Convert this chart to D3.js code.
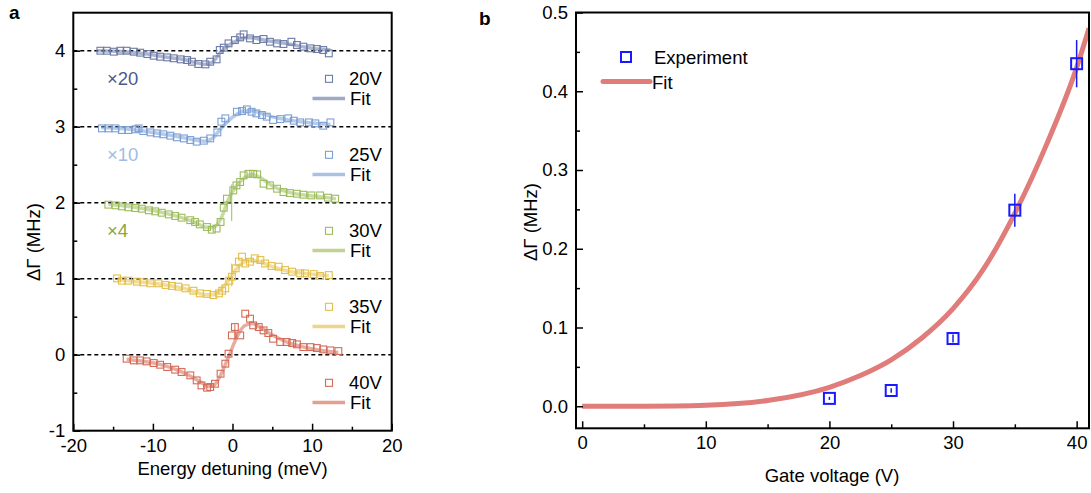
<!DOCTYPE html>
<html>
<head>
<meta charset="utf-8">
<script src="https://cdn.jsdelivr.net/npm/d3@7"></script>
<style>
  body { margin: 0; background: #fff; }
  text { font-family: "Liberation Sans", Arial, sans-serif; }
</style>
</head>
<body>
<svg id="chart" width="1091" height="493"></svg>
<script>
// ---- panel a data (deviation from each dashed baseline) ----
const voltages = ["20V", "25V", "30V", "35V", "40V"];
const offsets = [4, 3, 2, 1, 0];
const scaleLabels = ["×20", "×10", "×4"];
const colors = ["#6b7aa6", "#7b9fd4", "#9cbc5c", "#e3bf4a", "#d46a55"];
const scaleColors = ["#4d5b8c", "#9fbde3", "#8aa83c"];

const exp20 = [[-16.6,0],[-15.8,0],[-14.9,-0.013],[-14.1,0],[-13.3,0],[-12.4,-0.013],[-11.6,-0.026],[-10.7,-0.044],
  [-9.9,-0.066],[-9.1,-0.079],[-8.2,-0.088],[-7.4,-0.1],[-6.5,-0.114],[-5.7,-0.123],[-5.1,-0.145],[-4.3,-0.175],
  [-3.4,-0.18],[-2.8,-0.145],[-2.0,-0.114],[-1.6,0.009],[-1.1,0.04],[-0.5,0.096],[0.3,0.14],[0.97,0.175],[1.4,0.215],
  [2.2,0.162],[3.0,0.14],[3.9,0.154],[4.7,0.118],[5.6,0.096],[6.4,0.088],[7.4,0.118],[8.1,0.075],[8.9,0.053],
  [9.8,0.031],[10.6,0.022],[11.4,0.009],[12.1,-0.035]];
const exp25 = [[-16.4,-0.022],[-15.6,-0.022],[-14.7,-0.022],[-13.9,-0.044],[-13.1,-0.044],[-12.2,-0.035],[-11.8,-0.022],
  [-11.2,-0.057],[-10.3,-0.075],[-9.5,-0.088],[-8.7,-0.1],[-7.8,-0.118],[-7.0,-0.14],[-6.1,-0.154],[-5.3,-0.175],
  [-4.5,-0.197],[-3.6,-0.184],[-2.8,-0.154],[-1.9,-0.075],[-1.4,0.066],[-0.9,0.11],[0.55,0.197],[1.2,0.206],[1.8,0.228],
  [2.4,0.197],[3.0,0.175],[3.7,0.154],[4.3,0.132],[5.1,0.088],[6.0,0.1],[7.0,0.11],[7.7,0.079],[8.5,0.057],[9.6,0.057],
  [10.4,0.044],[11.4,0.013],[12.3,0.057]];
const exp30 = [[-15.6,-0.026],[-14.7,-0.035],[-13.9,-0.048],[-13.1,-0.061],[-12.2,-0.07],[-11.4,-0.079],[-10.5,-0.1],
  [-9.7,-0.114],[-8.9,-0.132],[-8.0,-0.154],[-7.2,-0.175],[-6.4,-0.197],[-5.3,-0.23],[-4.7,-0.254],[-4.1,-0.285],
  [-3.2,-0.32],[-2.6,-0.355],[-2.0,-0.34],[-1.5,-0.254],[-1.1,-0.066],[-0.7,0.053],[0.1,0.162],[0.5,0.228],[0.96,0.272],
  [1.4,0.36],[2.0,0.38],[2.6,0.38],[3.1,0.373],[3.9,0.25],[4.7,0.228],[5.6,0.184],[6.4,0.14],[7.2,0.127],[8.1,0.118],
  [8.9,0.105],[9.9,0.096],[11.0,0.096],[12.0,0.066],[12.9,0.053]];
const exp35 = [[-14.5,0.004],[-13.9,-0.026],[-13.1,-0.026],[-12.0,-0.039],[-11.2,-0.048],[-10.3,-0.061],[-9.3,-0.061],
  [-8.4,-0.083],[-7.6,-0.096],[-6.8,-0.105],[-5.9,-0.127],[-4.9,-0.158],[-4.1,-0.193],[-3.2,-0.2],[-2.4,-0.215],
  [-1.7,-0.193],[-1.3,-0.158],[-0.9,-0.127],[-0.4,-0.026],[-0.08,0.026],[0.4,0.136],[0.8,0.224],[1.2,0.29],[1.6,0.2],
  [2.2,0.224],[2.8,0.268],[3.5,0.246],[4.1,0.2],[4.9,0.167],[5.8,0.158],[6.6,0.114],[7.5,0.092],[8.5,0.07],[9.1,0.07],
  [10.2,0.061],[11.0,0.035],[12.1,0.048]];
const exp40 = [[-13.3,-0.053],[-12.4,-0.075],[-11.6,-0.075],[-10.8,-0.088],[-9.9,-0.11],[-9.1,-0.132],[-8.2,-0.162],
  [-7.2,-0.197],[-6.4,-0.228],[-5.3,-0.272],[-4.5,-0.338],[-3.9,-0.404],[-3.2,-0.434],[-2.8,-0.425],[-2.2,-0.382],
  [-1.5,-0.25],[-0.9,-0.118],[-0.5,0.013],[-0.08,0.254],[0.3,0.364],[0.97,0.254],[1.6,0.54],[2.2,0.474],[2.6,0.386],
  [3.3,0.364],[3.9,0.32],[4.5,0.285],[5.1,0.21],[6.0,0.167],[6.8,0.167],[7.5,0.154],[8.1,0.136],[8.9,0.1],[9.8,0.1],
  [10.6,0.088],[11.4,0.07],[12.3,0.057],[13.3,0.048]];
const expA = [exp20, exp25, exp30, exp35, exp40];

const fit20 = [[-17,0],[-14,-0.01],[-11,-0.04],[-8,-0.09],[-6,-0.12],[-4.5,-0.16],[-3.5,-0.18],[-2.5,-0.15],[-1.5,-0.02],
  [-0.5,0.07],[0.5,0.13],[1.5,0.17],[2.5,0.17],[3.5,0.15],[5,0.12],[7,0.09],[9,0.05],[11,0.02],[12.3,0.01]];
const fit25 = [[-16.5,-0.01],[-14,-0.025],[-11,-0.06],[-8,-0.11],[-6,-0.15],[-4.5,-0.18],[-3.5,-0.19],[-2.5,-0.15],
  [-1.5,-0.03],[-0.5,0.08],[0.5,0.16],[1.5,0.21],[2.5,0.21],[3.5,0.18],[5,0.13],[7,0.09],[9,0.06],[11,0.04],[12.3,0.03]];
const fit30 = [[-15.6,-0.02],[-13,-0.05],[-10,-0.1],[-8,-0.15],[-6,-0.21],[-4.5,-0.27],[-3.5,-0.32],[-2.5,-0.33],
  [-1.5,-0.22],[-0.5,0.05],[0.5,0.22],[1.5,0.33],[2.5,0.37],[3.5,0.33],[5,0.22],[7,0.14],[9,0.1],[11,0.08],[13,0.05]];
const fit35 = [[-14.5,-0.01],[-12,-0.04],[-10,-0.06],[-8,-0.09],[-6,-0.13],[-4.5,-0.18],[-3.5,-0.21],[-2.5,-0.21],
  [-1.5,-0.15],[-0.5,-0.02],[0.5,0.13],[1.5,0.22],[2.5,0.24],[3.5,0.22],[5,0.16],[7,0.1],[9,0.07],[11,0.05],[12.1,0.04]];
const fit40 = [[-13.3,-0.06],[-11,-0.09],[-9,-0.13],[-7,-0.2],[-5.5,-0.27],[-4,-0.36],[-3,-0.42],[-2.3,-0.4],
  [-1.5,-0.27],[-0.5,-0.03],[0.5,0.22],[1.5,0.38],[2.5,0.41],[3.5,0.36],[5,0.26],[7,0.16],[9,0.1],[11,0.06],[13.3,0.03]];
const fitA = [fit20, fit25, fit30, fit35, fit40];

// a few visible error bars: [series index, x, y, half-length]
const errA = [[2, -0.1, 0.0, 0.24], [3, -0.1, 0.05, 0.15], [4, 0.3, 0.3, 0.1]];

const xTicksA = [-20, -10, 0, 10, 20];
const xMinorA = [-15, -5, 5, 15];
const yTicksA = [-1, 0, 1, 2, 3, 4];
const yMinorA = [-0.5, 0.5, 1.5, 2.5, 3.5];

// ---- panel b data ----
const gateV = [20, 25, 30, 35, 40];
const gammaExp = [0.010, 0.020, 0.086, 0.249, 0.435];
const gammaErr = [0.002, 0.003, 0.005, 0.021, 0.03];
const fitV = [0, 5, 10, 15, 20, 22.5, 25, 27.5, 30, 32.5, 35, 37.5, 40, 41];
const fitGamma = [0, 0.0001, 0.0013, 0.0072, 0.024, 0.039, 0.059, 0.087, 0.124, 0.175, 0.245, 0.33, 0.43, 0.48];

const xTicksB = [0, 10, 20, 30, 40];
const xMinorB = [5, 15, 25, 35];
const yTicksB = [0, 0.1, 0.2, 0.3, 0.4, 0.5];
const yMinorB = [0.05, 0.15, 0.25, 0.35, 0.45];

const FS = "18.5px";
const svg = d3.select("#chart");

function frame(g, x, y, xt, xm, yt, ym, xfmt, yfmt) {
  const [x0, x1] = x.range(), [y0, y1] = y.range();
  const ax = [
    g.append("g").attr("transform", `translate(0,${y0})`)
      .call(d3.axisBottom(x).tickValues(xt).tickFormat(xfmt).tickSizeInner(-7).tickSizeOuter(0).tickPadding(8)),
    g.append("g").attr("transform", `translate(0,${y0})`)
      .call(d3.axisBottom(x).tickValues(xm).tickFormat("").tickSizeInner(-4).tickSizeOuter(0)),
    g.append("g").attr("transform", `translate(${x0},0)`)
      .call(d3.axisLeft(y).tickValues(yt).tickFormat(yfmt).tickSizeInner(-7).tickSizeOuter(0).tickPadding(8)),
    g.append("g").attr("transform", `translate(${x0},0)`)
      .call(d3.axisLeft(y).tickValues(ym).tickFormat("").tickSizeInner(-4).tickSizeOuter(0))
  ];
  ax.forEach(a => {
    a.attr("font-family", null).attr("font-size", null);
    a.select(".domain").remove();
    a.selectAll(".tick line").attr("stroke", "#000").attr("stroke-width", 1.5);
    a.selectAll(".tick text").attr("fill", "#000").style("font-size", FS);
  });
  g.append("rect").attr("x", x0).attr("y", y1).attr("width", x1 - x0).attr("height", y0 - y1)
    .attr("fill", "none").attr("stroke", "#000").attr("stroke-width", 2);
}

// ================= panel a =================
const xA = d3.scaleLinear().domain([-20, 20]).range([73.3, 391.7]);
const yA = d3.scaleLinear().domain([-1, 4.5]).range([430.7, 12.7]);
const ga = svg.append("g");

offsets.forEach(o => {
  ga.append("line").attr("x1", xA(-20)).attr("x2", xA(20)).attr("y1", yA(o)).attr("y2", yA(o))
    .attr("stroke", "#000").attr("stroke-width", 1.4).attr("stroke-dasharray", "4,3");
});

const lineA = d3.line().curve(d3.curveMonotoneX);
fitA.forEach((f, i) => {
  ga.append("path")
    .attr("d", lineA(f.map(d => [xA(d[0]), yA(d[1] + offsets[i])])))
    .attr("fill", "none").attr("stroke", colors[i]).attr("stroke-width", 3.5).attr("stroke-opacity", 0.55);
});

errA.forEach(e => {
  const o = offsets[e[0]];
  ga.append("line").attr("x1", xA(e[1])).attr("x2", xA(e[1]))
    .attr("y1", yA(e[2] + e[3] + o)).attr("y2", yA(e[2] - e[3] + o))
    .attr("stroke", colors[e[0]]).attr("stroke-width", 1);
});

expA.forEach((s, i) => {
  ga.append("g").selectAll("rect").data(s).join("rect")
    .attr("x", d => xA(d[0]) - 3.4).attr("y", d => yA(d[1] + offsets[i]) - 3.4)
    .attr("width", 6.8).attr("height", 6.8)
    .attr("fill", "none").attr("stroke", colors[i]).attr("stroke-width", 1.1);
});

// legend a
voltages.forEach((v, i) => {
  const ys = yA(offsets[i] - 0.37), yl = yA(offsets[i] - 0.63);
  ga.append("rect").attr("x", 325.5).attr("y", ys - 3.5).attr("width", 7).attr("height", 7)
    .attr("fill", "none").attr("stroke", colors[i]).attr("stroke-width", 1.1);
  ga.append("text").attr("x", 349).attr("y", ys + 6.5).style("font-size", FS).text(v);
  ga.append("line").attr("x1", 312.5).attr("x2", 345).attr("y1", yl).attr("y2", yl)
    .attr("stroke", colors[i]).attr("stroke-width", 3.5).attr("stroke-opacity", 0.65);
  ga.append("text").attr("x", 350).attr("y", yl + 6.5).style("font-size", FS).text("Fit");
});

scaleLabels.forEach((s, i) => {
  ga.append("text").attr("x", 107).attr("y", yA(offsets[i] - 0.45)).style("font-size", FS)
    .attr("fill", scaleColors[i]).text(s);
});

const intFmt = d => String(d);
frame(ga, xA, yA, xTicksA, xMinorA, yTicksA, yMinorA, intFmt, intFmt);

ga.append("text").attr("x", xA(0)).attr("y", 475).attr("text-anchor", "middle")
  .style("font-size", FS).text("Energy detuning (meV)");
ga.append("text").attr("transform", "translate(40,242) rotate(-90)").attr("text-anchor", "middle")
  .style("font-size", FS).text("ΔΓ (MHz)");
svg.append("text").attr("x", 9).attr("y", 19).style("font-size", "19px").style("font-weight", "bold").text("a");

// ================= panel b =================
const xB = d3.scaleLinear().domain([-0.5, 41]).range([576, 1089]);
const yB = d3.scaleLinear().domain([-0.028, 0.5]).range([428.3, 12.5]);
const gb = svg.append("g");

svg.append("clipPath").attr("id", "clipB").append("rect")
  .attr("x", 576).attr("y", 12.5).attr("width", 513).attr("height", 415.8);

const lineB = d3.line().x(d => xB(d[0])).y(d => yB(d[1])).curve(d3.curveMonotoneX);
gb.append("path").attr("clip-path", "url(#clipB)")
  .attr("d", lineB(fitV.map((v, i) => [v, fitGamma[i]])))
  .attr("fill", "none").attr("stroke", "#e07c7a").attr("stroke-width", 5);

gateV.forEach((v, i) => {
  gb.append("line").attr("x1", xB(v)).attr("x2", xB(v))
    .attr("y1", yB(gammaExp[i] + gammaErr[i])).attr("y2", yB(gammaExp[i] - gammaErr[i]))
    .attr("stroke", "#1a1aee").attr("stroke-width", 1.5);
  gb.append("rect").attr("x", xB(v) - 5.5).attr("y", yB(gammaExp[i]) - 5.5)
    .attr("width", 11).attr("height", 11).attr("fill", "none")
    .attr("stroke", "#1a1aff").attr("stroke-width", 2);
});

// legend b
gb.append("rect").attr("x", 621).attr("y", 52).attr("width", 10).attr("height", 10)
  .attr("fill", "none").attr("stroke", "#1a1aff").attr("stroke-width", 2);
gb.append("text").attr("x", 654).attr("y", 63.5).style("font-size", FS).text("Experiment");
gb.append("line").attr("x1", 603).attr("x2", 650).attr("y1", 81.5).attr("y2", 81.5)
  .attr("stroke", "#e07c7a").attr("stroke-width", 5).attr("stroke-linecap", "round");
gb.append("text").attr("x", 652).attr("y", 88.5).style("font-size", FS).text("Fit");

frame(gb, xB, yB, xTicksB, xMinorB, yTicksB, yMinorB, intFmt, d3.format(".1f"));

gb.append("text").attr("x", 832).attr("y", 482).attr("text-anchor", "middle")
  .style("font-size", FS).text("Gate voltage (V)");
gb.append("text").attr("transform", "translate(537,222) rotate(-90)").attr("text-anchor", "middle")
  .style("font-size", FS).text("ΔΓ (MHz)");
svg.append("text").attr("x", 479).attr("y", 25).style("font-size", "19px").style("font-weight", "bold").text("b");
</script>
</body>
</html>
